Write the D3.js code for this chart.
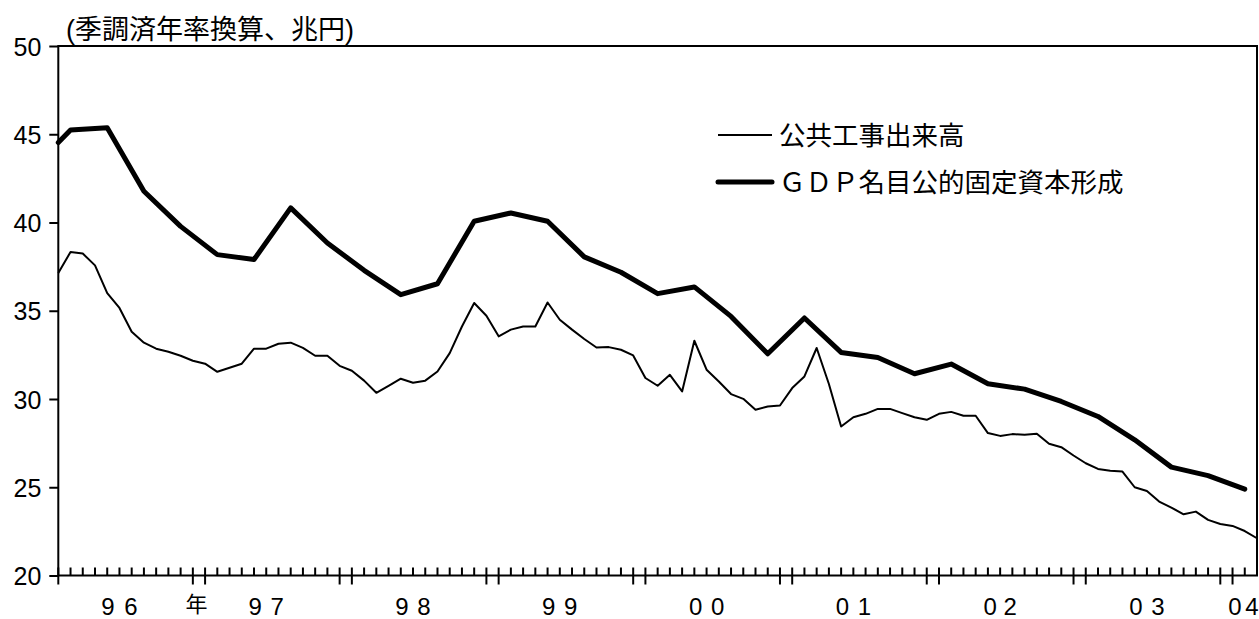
<!DOCTYPE html>
<html><head><meta charset="utf-8">
<script src="https://cdn.jsdelivr.net/npm/d3@7"></script>
<style>
html,body{margin:0;padding:0;background:#fff;}
svg{display:block;}
</style></head>
<body>
<svg id="chart" width="1259" height="619"></svg>
<script>
// ---- data ----
const yTickValues = [20, 25, 30, 35, 40, 45, 50];
const monthCount = 99; // monthly categories, index 0..98
const publicWorks = [37.14,38.33,38.24,37.57,36.0,35.16,33.81,33.19,32.85,32.68,32.45,32.17,32.0,31.54,31.77,32.0,32.85,32.85,33.13,33.19,32.9,32.45,32.45,31.88,31.6,31.04,30.35,30.75,31.15,30.92,31.04,31.56,32.6,34.11,35.44,34.72,33.55,33.93,34.11,34.11,35.47,34.49,33.93,33.4,32.92,32.94,32.79,32.47,31.19,30.75,31.37,30.43,33.3,31.66,30.99,30.28,30.01,29.39,29.57,29.63,30.62,31.28,32.89,30.85,28.44,28.97,29.16,29.44,29.44,29.2,28.97,28.82,29.16,29.27,29.05,29.05,28.07,27.91,28.01,27.97,28.03,27.46,27.27,26.8,26.36,26.04,25.94,25.89,25.0,24.79,24.19,23.85,23.47,23.62,23.15,22.92,22.81,22.52,22.11];
const gdpMonths = [0].concat(d3.range(1, 98, 3));
const gdpValues = [44.53,45.24,45.37,41.77,39.78,38.18,37.9,40.83,38.84,37.29,35.91,36.53,40.07,40.54,40.07,38.05,37.18,35.97,36.35,34.68,32.56,34.59,32.64,32.35,31.43,31.98,30.86,30.56,29.86,29.01,27.69,26.14,25.66,24.89];
const majorTicks = [0,11,12,23,24,35,36,47,48,59,60,71,72,83,84,95,96];
const yearLabels = ["９６","年","９７","９８","９９","００","０１","０２","０３","０４"];
const yearLabelPos = [5, 11.3, 17, 29, 41, 53, 65, 77, 89, 96.9];
const yearLabelGap = [23, 0, 22, 22, 22, 22, 22, 20, 22, 17];
const titleText = "(季調済年率換算、兆円)";
const seriesNames = ["公共工事出来高", "ＧＤＰ名目公的固定資本形成"];

// ---- layout ----
const svg = d3.select("#chart");
const L = 58.3, R = 1257, T = 46, B = 575.5;
const x = d3.scaleLinear().domain([0, monthCount - 1]).range([L, R]);
const y = d3.scaleLinear().domain([20, 50]).range([B, T]);
const latin = "'Liberation Sans', Arial, 'Noto Sans CJK JP', sans-serif";
const cjk = "'Noto Sans CJK JP', 'Liberation Sans', sans-serif";

// frame
svg.append("rect").attr("x", L).attr("y", T).attr("width", R - L).attr("height", B - T)
  .attr("fill", "none").attr("stroke", "#000").attr("stroke-width", 2);

// y axis
const yAxis = d3.axisLeft(y).tickValues(yTickValues).tickSize(9).tickPadding(8).tickFormat(d3.format("d"));
const gy = svg.append("g").attr("transform", `translate(${L},0)`).call(yAxis);
gy.select(".domain").remove();
gy.selectAll(".tick line").attr("stroke", "#000").attr("stroke-width", 2);
gy.selectAll(".tick text").attr("font-family", latin).attr("font-size", 25).attr("fill", "#000").attr("dy", "0.36em");

// x ticks
const gx = svg.append("g");
gx.selectAll("line.minor").data(d3.range(0, monthCount)).join("line")
  .attr("x1", d => x(d)).attr("x2", d => x(d))
  .attr("y1", B - 8).attr("y2", d => majorTicks.includes(d) ? B + 9 : B)
  .attr("stroke", "#000").attr("stroke-width", 2);

// year labels
yearLabels.forEach((lab, k) => {
  const chars = Array.from(lab);
  const cx = x(yearLabelPos[k]);
  chars.forEach((c, j) => {
    const isCjk = /[\u3000-\u9fff]/.test(c);
    svg.append("text")
      .attr("x", cx + (j - (chars.length - 1) / 2) * yearLabelGap[k])
      .attr("y", isCjk ? 612 : 615)
      .attr("text-anchor", "middle")
      .attr("font-family", isCjk ? cjk : latin)
      .attr("font-size", isCjk ? 22 : 24)
      .text(isCjk ? c : String.fromCharCode(c.charCodeAt(0) - 0xFEE0));
  });
});

// lines
const line = d3.line().x(d => x(d[0])).y(d => y(d[1]));
svg.append("path")
  .datum(publicWorks.map((v, i) => [i, v]))
  .attr("d", line).attr("fill", "none").attr("stroke", "#000")
  .attr("stroke-width", 2).attr("stroke-linejoin", "round");
svg.append("path")
  .datum(gdpValues.map((v, i) => [gdpMonths[i], v]))
  .attr("d", line).attr("fill", "none").attr("stroke", "#000")
  .attr("stroke-width", 5).attr("stroke-linejoin", "round").attr("stroke-linecap", "round");

// title
svg.append("text").attr("x", 66).attr("y", 39)
  .attr("font-family", latin).attr("font-size", 27).text(titleText);

// legend
const legY = [135, 182];
const legW = [2, 5];
seriesNames.forEach((name, k) => {
  svg.append("line").attr("x1", 718).attr("x2", 772).attr("y1", legY[k]).attr("y2", legY[k])
    .attr("stroke", "#000").attr("stroke-width", legW[k]).attr("stroke-linecap", k ? "round" : "butt");
  svg.append("text").attr("x", 779).attr("y", legY[k] + 10)
    .attr("font-family", cjk).attr("font-size", 26.5).text(name);
});
</script>
</body></html>
